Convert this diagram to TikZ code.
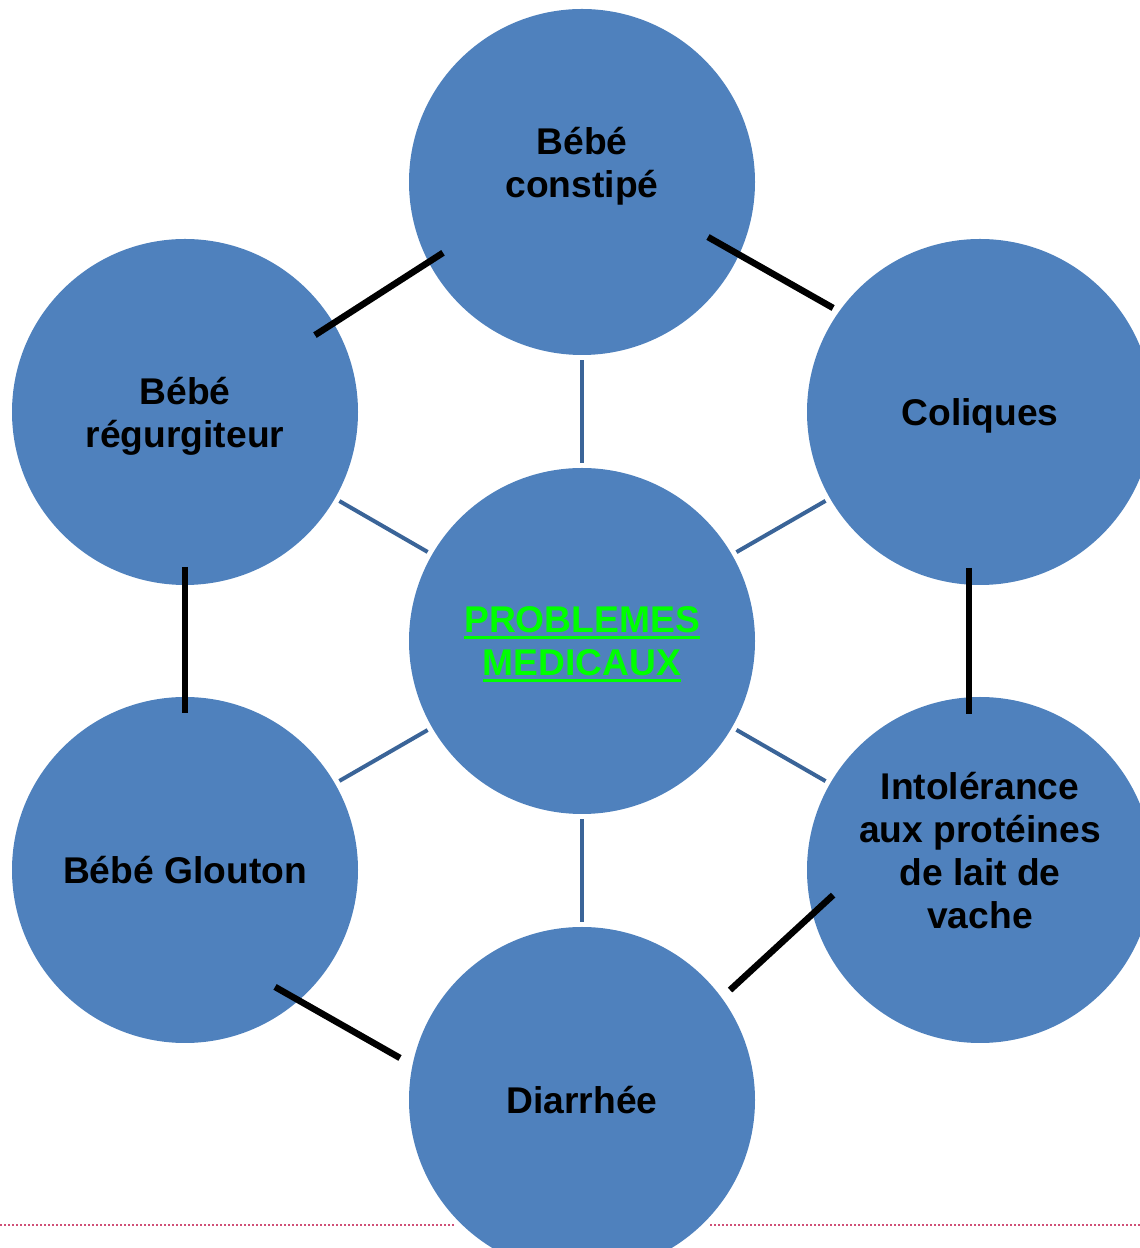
\documentclass[tikz,border=0pt]{standalone}
\usepackage{fontspec}
\setmainfont{Liberation Sans}
\usetikzlibrary{positioning}
\definecolor{bubbleblue}{RGB}{79,129,189}
\definecolor{spokeblue}{RGB}{58,100,152}
\definecolor{titlegreen}{RGB}{0,255,0}
\definecolor{dotred}{RGB}{208,80,120}
\newcommand{\greenline}[1]{\setbox0\hbox{#1}\rlap{\rule[-6.5pt]{\wd0}{3.3pt}}\box0}
\tikzset{
  x=1pt, y=1pt, % one unit is one pixel of the reference
  txt/.style={align=center, text depth=0pt, font=\fontsize{37.2}{43}\selectfont\bfseries}, % bold sans labels
  bubble/.style={circle, fill=bubbleblue, minimum size=346pt, inner sep=0pt, txt}, % the big blue discs
  spoke/.style={draw=spokeblue, line width=4pt, shorten <=5pt, shorten >=5pt}, % thin lines to the centre
  link/.style={draw=black, line width=6.5pt}, % thick black lines round the ring
  dotrule/.style={draw=dotred, line width=2pt, dash pattern=on 2pt off 2pt}, % dotted line at the foot
}

\begin{document}
\begin{tikzpicture}
  \useasboundingbox (0,0) rectangle (1140,1248);
  \clip (0,0) rectangle (1140,1248);

  % dotted rule
  \coordinate (rulea) at (0,23);
  \coordinate (ruleb) at (455,23);
  \coordinate (rulec) at (710,23);
  \coordinate (ruled) at (1140,23);
  \draw[dotrule] (rulea) -- (ruleb);
  \draw[dotrule] (rulec) -- (ruled);

  % discs
  \node[bubble, text=titlegreen] (c) at (582,607) {\greenline{PROBLEMES}\\\greenline{MEDICAUX}};
  \node[bubble, label={[txt, yshift=20pt]center:Bébé\\constipé}] (top) at (582,1066) {};
  \node[bubble] (lt) at (185,836) {Bébé\\régurgiteur};
  \node[bubble] (rt) at (980,836) {Coliques};
  \node[bubble] (lb) at (185,378) {Bébé Glouton};
  \node[bubble, label={[txt, yshift=20pt]center:Intolérance\\aux protéines\\de lait de\\vache}] (rb) at (980,378) {};
  \node[bubble] (bot) at (582,148) {Diarrhée};

  % spokes
  \draw[spoke] (c) -- (top);
  \draw[spoke] (c) -- (lt);
  \draw[spoke] (c) -- (rt);
  \draw[spoke] (c) -- (lb);
  \draw[spoke] (c) -- (rb);
  \draw[spoke] (c) -- (bot);

  % ring
  \draw[link] ([shift={(30.6:151pt)}]lt.center) -- ([shift={(207:156pt)}]top.center);
  \draw[link] ([shift={(-23.6:137.5pt)}]top.center) -- ([shift={(144.7:180pt)}]rt.center);
  \draw[link] ([shift={(-11pt,-156pt)}]rt.center) -- ([shift={(-11pt,156pt)}]rb.center);
  \draw[link] ([shift={(0pt,-155pt)}]lt.center) -- ([shift={(0pt,157pt)}]lb.center);
  \draw[link] ([shift={(189.7:149pt)}]rb.center) -- ([shift={(36.6:184.4pt)}]bot.center);
  \draw[link] ([shift={(-52.4:147.6pt)}]lb.center) -- ([shift={(167:186.8pt)}]bot.center);
\end{tikzpicture}
\end{document}
